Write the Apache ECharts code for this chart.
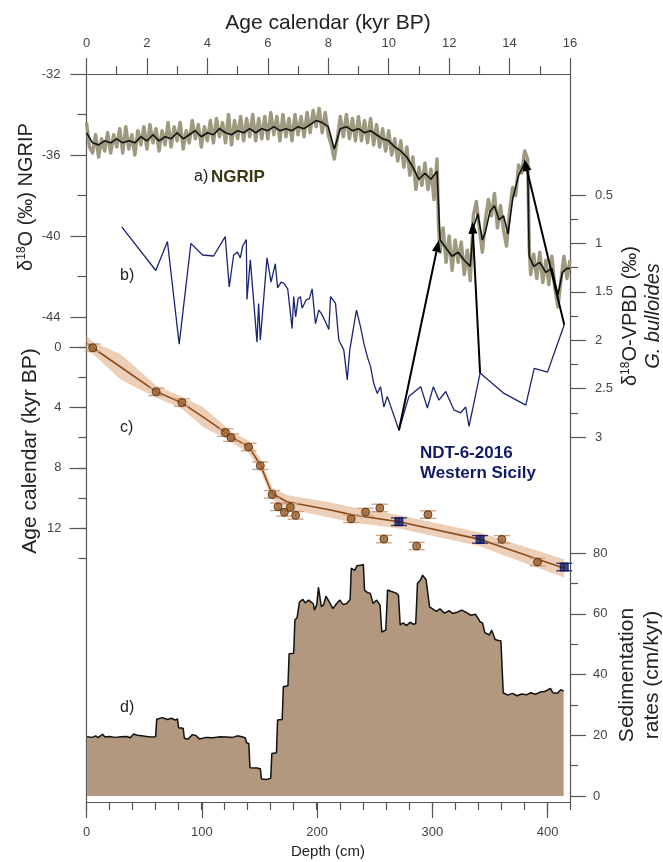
<!DOCTYPE html>
<html><head><meta charset="utf-8">
<script src="https://cdn.jsdelivr.net/npm/echarts@6/dist/echarts.min.js"></script>
<style>html,body{margin:0;padding:0;background:#fff}#c{width:663px;height:862px}</style>
</head><body><div id="c"></div>
<script>
// ---------- DATA ----------
const ageAxisRange = [0, 16];
const depthAxisRange = [0, 420];
const ngripRange = [-44, -32];
const bulloidesRange = [0.5, 3];
const ageModelRange = [0, 14];
const sedRange = [0, 80];

// a) NGRIP d18O, raw (age kyr, permil)
const ngripRaw = [[0,-34.4],[0.1,-35.6],[0.2,-35.9],[0.3,-35.0],[0.4,-36.1],[0.5,-35.2],[0.6,-35.8],[0.7,-34.9],[0.8,-35.9],[0.9,-35.0],
[1,-35.6],[1.1,-34.7],[1.2,-35.9],[1.3,-34.6],[1.4,-35.7],[1.5,-35.0],[1.6,-36.0],[1.7,-34.8],[1.8,-35.5],[1.9,-34.6],
[2,-35.7],[2.1,-34.5],[2.2,-35.4],[2.3,-34.7],[2.4,-35.8],[2.5,-34.8],[2.6,-35.5],[2.7,-34.4],[2.8,-35.6],[2.9,-34.6],
[3,-35.3],[3.1,-34.4],[3.2,-35.7],[3.3,-34.8],[3.4,-35.4],[3.5,-34.3],[3.6,-35.2],[3.7,-34.5],[3.8,-35.6],[3.9,-34.6],
[4,-35.3],[4.1,-34.3],[4.2,-35.4],[4.3,-34.2],[4.4,-35.1],[4.5,-34.4],[4.6,-35.4],[4.7,-34.0],[4.8,-35.5],[4.9,-34.3],
[5,-35.2],[5.1,-34.1],[5.2,-35.3],[5.3,-34.2],[5.4,-35.1],[5.5,-34.0],[5.6,-35.3],[5.7,-34.2],[5.8,-35.2],[5.9,-34.1],
[6,-35.2],[6.1,-33.9],[6.2,-35.0],[6.3,-34.1],[6.4,-35.3],[6.5,-34.0],[6.6,-35.1],[6.7,-34.2],[6.8,-35.3],[6.9,-34.0],
[7,-35.0],[7.1,-34.1],[7.2,-35.1],[7.3,-33.9],[7.4,-34.9],[7.5,-33.8],[7.6,-34.6],[7.7,-33.7],[7.8,-34.9],[7.9,-33.9],
[8,-35.0],[8.1,-35.5],[8.2,-36.2],[8.3,-35.2],[8.4,-34.1],[8.5,-35.1],[8.6,-34.0],[8.7,-35.2],[8.8,-34.2],[8.9,-35.3],
[9,-34.1],[9.1,-35.3],[9.2,-34.3],[9.3,-35.4],[9.4,-34.2],[9.5,-35.5],[9.6,-34.5],[9.7,-35.6],[9.8,-34.7],[9.9,-35.8],
[10,-34.8],[10.1,-36.0],[10.2,-35.2],[10.3,-36.3],[10.4,-35.3],[10.5,-36.6],[10.6,-35.6],[10.7,-37.0],[10.8,-36.1],[10.9,-37.7],
[11,-36.6],[11.1,-37.5],[11.2,-36.4],[11.3,-37.7],[11.4,-36.7],[11.5,-38.2],[11.6,-36.2],[11.65,-39.5],[11.7,-40.8],[11.8,-39.6],
[11.9,-41.3],[12,-40.0],[12.1,-41.7],[12.2,-40.2],[12.3,-41.3],[12.4,-40.3],[12.5,-41.9],[12.6,-40.7],[12.7,-42.2],[12.8,-39.0],
[12.9,-38.3],[13,-39.6],[13.1,-40.8],[13.2,-39.2],[13.3,-38.2],[13.4,-39.0],[13.5,-37.9],[13.6,-39.6],[13.7,-38.5],[13.8,-39.7],
[13.9,-40.5],[14,-38.8],[14.1,-37.6],[14.2,-38.0],[14.3,-36.5],[14.4,-36.9],[14.5,-35.8],[14.6,-36.2],[14.65,-40.5],[14.7,-41.9],
[14.8,-40.9],[14.9,-42.1],[15,-40.8],[15.1,-42.3],[15.2,-41.2],[15.3,-42.4],[15.4,-41.0],[15.5,-42.6],[15.6,-43.5],[15.7,-42.2],
[15.8,-41.0],[15.9,-42.1],[16,-41.2]];

// a) NGRIP d18O, smoothed
const ngripSmooth = [[0,-34.9],[0.2,-35.4],[0.4,-35.5],[0.6,-35.3],[0.8,-35.4],[1,-35.2],[1.2,-35.4],[1.4,-35.3],[1.6,-35.4],[1.8,-35.1],
[2,-35.3],[2.2,-35.0],[2.4,-35.3],[2.6,-35.1],[2.8,-35.2],[3,-34.9],[3.2,-35.2],[3.4,-35.0],[3.6,-34.8],[3.8,-35.1],
[4,-34.9],[4.2,-35.0],[4.4,-34.7],[4.6,-34.9],[4.8,-35.0],[5,-34.8],[5.2,-34.9],[5.4,-34.7],[5.6,-34.9],[5.8,-34.7],
[6,-34.8],[6.2,-34.6],[6.4,-34.8],[6.6,-34.7],[6.8,-34.8],[7,-34.6],[7.2,-34.7],[7.4,-34.5],[7.6,-34.3],[7.8,-34.4],
[8,-34.6],[8.2,-35.7],[8.4,-34.7],[8.6,-34.6],[8.8,-34.8],[9,-34.7],[9.2,-34.9],[9.4,-34.8],[9.6,-35.0],[9.8,-35.2],
[10,-35.3],[10.2,-35.6],[10.4,-35.8],[10.6,-36.1],[10.8,-36.6],[11,-37.2],[11.2,-36.9],[11.4,-37.2],[11.6,-36.8],[11.7,-40.2],
[11.9,-40.6],[12.1,-41.0],[12.3,-40.8],[12.5,-41.2],[12.7,-41.5],[12.8,-39.6],[12.95,-38.9],[13.1,-40.2],[13.2,-39.8],[13.35,-38.8],
[13.5,-38.5],[13.65,-39.2],[13.8,-39.0],[13.95,-39.9],[14.1,-38.2],[14.3,-37.0],[14.5,-36.4],[14.6,-36.6],[14.65,-41.0],[14.8,-41.5],
[15,-41.3],[15.2,-41.8],[15.4,-41.6],[15.6,-42.9],[15.75,-41.8],[15.9,-41.6],[16,-41.6]];

// b) G. bulloides d18O (depth cm, permil VPDB)
const bulloides = [[30.6,0.83],[60.2,1.28],[70.3,0.98],[80.5,2.04],[90.7,1.0],[100.8,1.12],[110.4,1.13],[120.5,0.93],[124,1.45],[127.8,1.12],
[131.2,1.09],[133.6,1.15],[135.6,1.03],[138.8,0.96],[139.4,1.58],[142.3,1.17],[148.1,2.02],[149.5,1.62],[151,2.0],[156.8,1.15],
[160.3,1.4],[164,1.21],[166,1.46],[169,1.4],[171.3,1.41],[174.8,1.47],[178.6,1.88],[180,1.55],[181.7,1.76],[183.8,1.57],
[185.8,1.55],[187.3,1.67],[191,1.58],[193.6,1.57],[196,1.47],[198.9,1.83],[201.8,1.69],[203.8,1.72],[207.6,1.81],[210.5,1.89],
[212,1.55],[216.3,1.62],[219.2,2.0],[223.5,2.1],[226.5,2.41],[228.7,2.1],[234.5,1.69],[238,1.86],[240.9,2.03],[243.9,2.17],
[246.7,2.27],[249.6,2.45],[252.6,2.55],[255.4,2.48],[258.3,2.69],[261.3,2.58],[271.4,2.93],[280.1,2.58],[290.3,2.48],[296.1,2.7],
[301.3,2.48],[306.2,2.62],[312,2.53],[319.2,2.72],[325,2.75],[329.4,2.69],[332.3,2.89],[341.9,2.34],[362.7,2.55],[381.6,2.67],
[388.9,2.29],[400.5,2.33],[415,1.84]];

// c) age-depth model: dated levels (depth, age, error)
const datedPoints = [[5.4,0.05,0.25],[60.5,2.97,0.25],[82.9,3.68,0.25],[120.6,5.67,0.25],[125.5,6.0,0.25],[140.8,6.62,0.25],[151,7.86,0.25],
[161.2,9.76,0.25],[166.4,10.58,0.25],[171.9,10.95,0.25],[177.1,10.62,0.25],[181.7,11.15,0.25],[229.9,11.38,0.25],[242.4,10.93,0.25],
[254.8,10.66,0.25],[258.3,12.72,0.25],[286.8,13.18,0.25],[296.6,11.1,0.25],[360.8,12.74,0.25],[391.8,14.24,0.25]];
// c) tie points to NGRIP (depth, age, error)
const tiePoints = [[271.4,11.57,0.25],[341.9,12.74,0.25],[415,14.57,0.25]];
// c) age model curve and its half uncertainty
const modelDepth = [0,5.4,30,60.5,82.9,101.7,120.5,125.5,140.8,151,161.2,174,212,230,271.4,341.9,361,415];
const modelAge   = [-0.25,0.05,1.34,2.95,3.7,4.66,5.65,5.95,6.6,7.8,9.7,10.25,10.8,11.1,11.57,12.74,13.25,14.66];
const modelHalf  = [0.5,0.4,0.85,0.4,0.4,0.65,0.4,0.35,0.4,0.4,0.4,0.45,0.5,0.5,0.45,0.45,0.5,0.6];

// d) sedimentation rate (depth cm, cm/kyr)
const sedRate = [[0.5,19.5],[5,19.3],[8,19.8],[10,19.2],[14,20.3],[16,19.4],[20,19.6],[25,19.3],[30,19.5],[35,19.6],[38,19.2],[41,20.4],
[44,20.0],[48,19.8],[52,19.6],[56,19.4],[60,19.5],[61,25.3],[66,25.8],[70,25.2],[74,25.6],[77,25.0],[79,25.4],[80,22.5],[84,22.3],
[85,19.0],[88,18.7],[92,20.2],[95,19.9],[98,18.8],[104,19.3],[110,19.2],[116,19.5],[122,19.4],[127,19.3],[131,19.8],[135,19.5],
[138,19.1],[139,17.5],[141,17.3],[142,9.3],[148,9.2],[151,9.0],[152,5.6],[156,5.4],[160,5.8],[161,14.0],[165,14.2],[166,25.0],
[170,25.2],[171,36.0],[175,36.3],[176,46.8],[180,47.0],[181,57.9],[183,58.8],[185,63.9],[188,64.7],[190,63.6],[193,64.5],[197,63.3],
[198,61.2],[200,63.0],[201.5,68.7],[204,62.3],[206,63.0],[208,65.8],[211,63.8],[214,61.7],[217,63.2],[220,64.5],[223,63.0],[226,63.4],
[229,64.7],[230,75.0],[233,74.3],[235,75.8],[238,76.0],[240.5,76.2],[241.5,67.8],[244,67.0],[246.5,66.7],[249,63.4],[252,64.5],
[255,62.8],[256.5,54.0],[260,54.6],[261.5,67.8],[265,67.3],[269,66.8],[271,66.1],[272.5,56.3],[275,57.0],[278,56.1],[281,57.2],
[284,56.5],[286,56.8],[287.5,70.0],[290,71.0],[292,72.7],[295,71.2],[296.5,71.5],[298,62.3],[301,61.5],[304,60.8],[307,61.6],
[311,60.2],[315,61.0],[318,60.1],[322,60.5],[326,61.2],[330,60.4],[334,59.5],[338,59.8],[342,57.3],[344,57.0],[346,53.8],[350,53.0],
[352,54.6],[355,51.5],[357,51.3],[360,51.0],[361.5,50.5],[362,34.0],[366,33.2],[370,33.8],[374,33.0],[378,33.6],[382,33.3],[386,34.0],
[390,33.5],[394,34.2],[398,34.4],[401,35.0],[403,35.4],[405,34.0],[409,33.8],[412,35.0],[414.5,34.5]];

// arrows: from b) (depth, d18O bulloides) to a) (age, d18O NGRIP)
const arrowFrom = [[271.4,2.93],[341.9,2.34],[415,1.84]];
const arrowTo   = [[11.66,-40.2],[12.77,-39.3],[14.49,-36.2]];

// ---------- CHART ----------
const FONT = "'Liberation Sans', Arial, sans-serif";
const AX = '#555';
const L = 86.5, R = 93;
const chart = echarts.init(document.getElementById('c'), null, {renderer:'canvas'});

const lbl = (extra) => Object.assign({color:'#444', fontSize:13, fontFamily:FONT}, extra||{});
const noSplit = {show:false};
const hiddenX = (g, r) => ({type:'value', gridIndex:g, min:r[0], max:r[1], show:false, splitLine:noSplit});
const line = (show) => ({show:show, onZero:false, lineStyle:{color:AX, width:1.2}});

const grids = [
  {left:L, right:R, top:74, height:728},            // 0 frame
  {left:L, right:663-547.6, top:74, height:728},    // 1 depth labels 0..400
  {left:L, right:R, top:74, height:243},            // 2 NGRIP
  {left:L, right:R, top:195, height:242},           // 3 bulloides
  {left:L, right:R, top:347, height:211.4},         // 4 age model 0..14
  {left:L, right:R, top:347, height:181.2},         // 5 age labels 0..12
  {left:L, right:R, top:553, height:243}            // 6 sed rate
].map(g => Object.assign({outerBoundsMode:'none', containLabel:false}, g));

const option = {
  animation:false,
  backgroundColor:'#fff',
  grid: grids,
  xAxis: [
    {type:'value', gridIndex:0, position:'top', min:0, max:16, interval:2,
     axisLine:line(true),
     axisTick:{show:true, length:16, lineStyle:{color:AX, width:1.2}},
     minorTick:{show:true, splitNumber:2, length:8, lineStyle:{color:AX, width:1.2}},
     axisLabel:lbl({margin:24, fontSize:13}), splitLine:noSplit, minorSplitLine:noSplit},
    {type:'value', gridIndex:0, position:'bottom', min:0, max:420, interval:20,
     axisLine:line(true),
     axisTick:{show:true, length:8, lineStyle:{color:AX, width:1.2}},
     axisLabel:{show:false}, splitLine:noSplit},
    {type:'value', gridIndex:1, position:'bottom', min:0, max:400, interval:100,
     axisLine:line(false),
     axisTick:{show:true, length:16, lineStyle:{color:AX, width:1.2}},
     axisLabel:lbl({margin:24}), splitLine:noSplit},
    hiddenX(2, ageAxisRange),
    hiddenX(3, depthAxisRange),
    hiddenX(4, depthAxisRange),
    hiddenX(5, depthAxisRange),
    hiddenX(6, depthAxisRange)
  ],
  yAxis: [
    {type:'value', gridIndex:0, position:'left', min:0, max:1, axisLine:line(true),
     axisTick:{show:false}, axisLabel:{show:false}, splitLine:noSplit},
    {type:'value', gridIndex:0, position:'right', min:0, max:1, axisLine:line(true),
     axisTick:{show:false}, axisLabel:{show:false}, splitLine:noSplit},
    {type:'value', gridIndex:1, min:0, max:1, show:false, splitLine:noSplit},
    {type:'value', gridIndex:2, position:'left', min:ngripRange[0], max:ngripRange[1], interval:4,
     axisLine:line(false),
     axisTick:{show:true, length:16, lineStyle:{color:AX, width:1.2}},
     minorTick:{show:true, splitNumber:2, length:9, lineStyle:{color:AX, width:1.2}},
     axisLabel:lbl({margin:26}), splitLine:noSplit, minorSplitLine:noSplit},
    {type:'value', gridIndex:3, position:'right', inverse:true, min:bulloidesRange[0], max:bulloidesRange[1], interval:0.5,
     axisLine:line(false),
     axisTick:{show:true, length:16, lineStyle:{color:AX, width:1.2}},
     minorTick:{show:true, splitNumber:2, length:8, lineStyle:{color:AX, width:1.2}},
     axisLabel:lbl({margin:25}), splitLine:noSplit, minorSplitLine:noSplit},
    {type:'value', gridIndex:4, position:'left', inverse:true, min:ageModelRange[0], max:ageModelRange[1], interval:2,
     axisLine:line(false),
     axisTick:{show:true, length:8, lineStyle:{color:AX, width:1.2}},
     axisLabel:{show:false}, splitLine:noSplit},
    {type:'value', gridIndex:5, position:'left', inverse:true, min:0, max:12, interval:4,
     axisLine:line(false),
     axisTick:{show:true, length:17, lineStyle:{color:AX, width:1.2}},
     axisLabel:lbl({margin:25}), splitLine:noSplit},
    {type:'value', gridIndex:6, position:'right', min:sedRange[0], max:sedRange[1], interval:20,
     axisLine:line(false),
     axisTick:{show:true, length:16, lineStyle:{color:AX, width:1.2}},
     minorTick:{show:true, splitNumber:2, length:8, lineStyle:{color:AX, width:1.2}},
     axisLabel:lbl({margin:23}), splitLine:noSplit, minorSplitLine:noSplit}
  ],
  series: [
    {type:'line', xAxisIndex:7, yAxisIndex:7, data:sedRate, symbol:'none', z:2,
     lineStyle:{color:'#111', width:1.5}, areaStyle:{color:'#b39880', opacity:1}},
    {type:'line', xAxisIndex:3, yAxisIndex:3, data:ngripRaw, symbol:'none', clip:false, z:3,
     lineStyle:{color:'#9d9a80', width:3.5, join:'round'}},
    {type:'line', xAxisIndex:3, yAxisIndex:3, data:ngripSmooth, symbol:'none', clip:false, z:4,
     lineStyle:{color:'#111', width:1.6}},
    {type:'line', xAxisIndex:4, yAxisIndex:4, data:bulloides, symbol:'none', clip:false, z:4,
     lineStyle:{color:'#1b2473', width:1.3}},
    {type:'custom', xAxisIndex:5, yAxisIndex:5, data:[[0,0]], z:3, clip:false,
     renderItem:function(params, api){
       const up = modelDepth.map((d,i)=>api.coord([d, modelAge[i]-modelHalf[i]]));
       const lo = modelDepth.map((d,i)=>api.coord([d, modelAge[i]+modelHalf[i]])).reverse();
       return {type:'polygon', shape:{points:up.concat(lo)}, style:{fill:'rgba(222,168,126,0.55)'}};
     }},
    {type:'line', xAxisIndex:5, yAxisIndex:5, data:modelDepth.map((d,i)=>[d, modelAge[i]]), symbol:'none', clip:false, z:4,
     lineStyle:{color:'#8a4b1c', width:1.6}},
    {type:'custom', xAxisIndex:5, yAxisIndex:5, data:datedPoints, z:5, clip:false,
     renderItem:errRender('#cf9f7c')},
    {type:'custom', xAxisIndex:5, yAxisIndex:5, data:tiePoints, z:5, clip:false,
     renderItem:errRender('#2a3280')},
    {type:'scatter', xAxisIndex:5, yAxisIndex:5, data:datedPoints.map(p=>[p[0],p[1]]), symbol:'circle', symbolSize:8, z:6, clip:false,
     itemStyle:{color:'#9c5f2a', borderColor:'#4a280c', borderWidth:1}},
    {type:'scatter', xAxisIndex:5, yAxisIndex:5, data:tiePoints.map(p=>[p[0],p[1]]), symbol:'rect', symbolSize:8, z:6, clip:false,
     itemStyle:{color:'#141a66', borderColor:'#0a0f40', borderWidth:1}}
  ]
};

function errRender(col){
  return function(params, api){
    const d = api.value(0), a = api.value(1), e = api.value(2);
    const p = api.coord([d,a]), p1 = api.coord([d,a-e]), p2 = api.coord([d,a+e]);
    const w = 8, st = {stroke:col, lineWidth:1.3};
    return {type:'group', children:[
      {type:'line', shape:{x1:p[0], y1:p1[1], x2:p[0], y2:p2[1]}, style:st},
      {type:'line', shape:{x1:p[0]-w, y1:p1[1], x2:p[0]+w, y2:p1[1]}, style:st},
      {type:'line', shape:{x1:p[0]-w, y1:p2[1], x2:p[0]+w, y2:p2[1]}, style:st}
    ]};
  };
}

chart.setOption(option);

// ---------- TEXT & ARROWS ----------
function txt(x, y, text, font, fill, align){
  const al = align || 'left';
  return {type:'text', x:x, y:y, z:20,
    style:{text:text, font:font, fill:fill||'#222', textAlign:al, align:al, textVerticalAlign:'middle', verticalAlign:'middle'}};
}
function rtxt(x, y, text, font, fill, rich){
  const st = {text:text, font:font, fill:fill||'#222', textAlign:'center', textVerticalAlign:'middle', align:'center', verticalAlign:'middle'};
  if (rich) st.rich = rich;
  return {type:'text', x:x, y:y, rotation:Math.PI/2, z:20, style:st};
}
const big = '20px ' + FONT;
const supRich = {
  n:{font:'20px ' + FONT, fill:'#222'},
  s:{font:'12px ' + FONT, fill:'#222', verticalAlign:'top', padding:[0,0,8,0]}
};

const graphics = [
  txt(328, 23, 'Age calendar (kyr BP)', '21px ' + FONT, '#222', 'center'),
  txt(328, 852, 'Depth (cm)', '15px ' + FONT, '#222', 'center'),
  rtxt(26, 197, '{n|δ}{s|18}{n|O (‰) NGRIP}', big, '#222', supRich),
  rtxt(30, 451, 'Age calendar (kyr BP)', '21px ' + FONT),
  rtxt(630, 316, '{n|δ}{s|18}{n|O-VPBD (‰)}', big, '#222', supRich),
  rtxt(653, 316, 'G. bulloides', 'italic 20px ' + FONT),
  rtxt(627, 675, 'Sedimentation', '21px ' + FONT),
  rtxt(652, 675, 'rates (cm/kyr)', '21px ' + FONT),
  txt(194, 177, 'a)', '16px ' + FONT),
  txt(211, 177, 'NGRIP', 'bold 17px ' + FONT, '#3b3814'),
  txt(120, 276, 'b)', '16px ' + FONT),
  txt(120, 428, 'c)', '16px ' + FONT),
  txt(120, 708, 'd)', '16px ' + FONT),
  txt(420, 453, 'NDT-6-2016', 'bold 17px ' + FONT, '#121a66'),
  txt(420, 473, 'Western Sicily', 'bold 17px ' + FONT, '#121a66')
];

arrowFrom.forEach((f, i) => {
  const a = chart.convertToPixel({xAxisIndex:4, yAxisIndex:4}, f);
  const b = chart.convertToPixel({xAxisIndex:3, yAxisIndex:3}, arrowTo[i]);
  const dx = b[0]-a[0], dy = b[1]-a[1], len = Math.sqrt(dx*dx+dy*dy);
  const ux = dx/len, uy = dy/len, hl = 12, hw = 4.5;
  const bx = b[0]-ux*hl, by = b[1]-uy*hl;
  graphics.push({type:'line', z:15, shape:{x1:a[0], y1:a[1], x2:bx, y2:by}, style:{stroke:'#000', lineWidth:2}});
  graphics.push({type:'polygon', z:15, shape:{points:[[b[0],b[1]],[bx-uy*hw, by+ux*hw],[bx+uy*hw, by-ux*hw]]}, style:{fill:'#000'}});
});

chart.setOption({graphic: graphics});
</script>
</body></html>
